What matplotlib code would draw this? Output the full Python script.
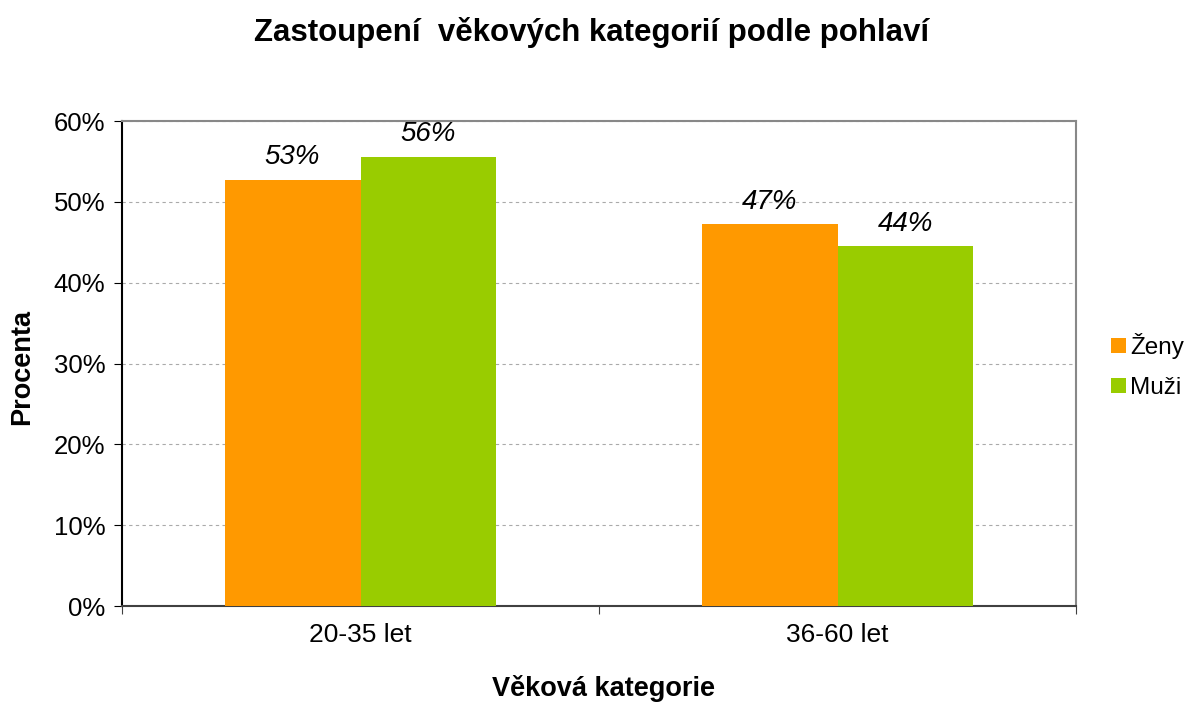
import matplotlib
matplotlib.use("Agg")
import matplotlib.pyplot as plt
from matplotlib.ticker import FuncFormatter
import numpy as np

plt.rcParams['font.family'] = ['Liberation Sans', 'DejaVu Sans']

categories = ["20-35 let", "36-60 let"]
zeny = [52.7, 47.2]
muzi = [55.6, 44.5]
zeny_labels = ["53%", "47%"]
muzi_labels = ["56%", "44%"]
series_names = ["Ženy", "Muži"]

fig = plt.figure(figsize=(11.88, 7.02), dpi=100)
ax = fig.add_axes([122/1188, 1-606/702, (1076-122)/1188, (606-121)/702])

x = np.arange(len(categories))
w = 0.285
b1 = ax.bar(x - w/2, zeny, w, color="#FF9900", label=series_names[0], zorder=3)
b2 = ax.bar(x + w/2, muzi, w, color="#99CC00", label=series_names[1], zorder=3)

for bars, labs in ((b1, zeny_labels), (b2, muzi_labels)):
    for r, t in zip(bars, labs):
        ax.annotate(t, (r.get_x() + r.get_width()/2, r.get_height()),
                    xytext=(0, 7), textcoords="offset points",
                    ha="center", va="bottom", fontsize=20, style="italic")

ax.set_xlim(-0.5, 1.5)
ax.set_ylim(0, 60)
ax.set_yticks(np.arange(0, 61, 10))
ax.yaxis.set_major_formatter(FuncFormatter(lambda v, p: f"{v:.0f}%"))
ax.set_xticks([-0.5, 0.5, 1.5])
ax.set_xticklabels([])
ax.set_xticks(x, minor=True)
ax.set_xticklabels(categories, minor=True)
ax.tick_params(axis="x", which="minor", length=0, pad=12, labelsize=19)
ax.tick_params(axis="x", which="major", length=6, direction="out", color="#404040")
ax.tick_params(axis="y", length=6, direction="out", labelsize=18.5, pad=6)

ax.yaxis.grid(True, linestyle=(0, (3, 3)), color="#AAAAAA", linewidth=0.8, zorder=0)
ax.set_axisbelow(True)

ax.spines["left"].set_color("black")
ax.spines["bottom"].set_color("#404040")
ax.spines["left"].set_linewidth(1.5)
ax.spines["bottom"].set_linewidth(1.5)
ax.spines["top"].set_color("#888888")
ax.spines["right"].set_color("#888888")
ax.spines["top"].set_linewidth(1.5)
ax.spines["right"].set_linewidth(1.5)

fig.text(592/1188, 1-32/702, "Zastoupení  věkových kategorií podle pohlaví",
         ha="center", va="center", fontsize=22.5, fontweight="bold")
fig.text(22/1188, 1-367/702, "Procenta", rotation=90, ha="center", va="center",
         fontsize=19.5, fontweight="bold")
fig.text(603/1188, 1-688/702, "Věková kategorie", ha="center", va="center",
         fontsize=19.5, fontweight="bold")

leg = fig.legend(handles=[b1, b2], labels=series_names, loc="center left",
                 bbox_to_anchor=(1111/1188, 1-366/702), frameon=False,
                 fontsize=17.5, handlelength=0.6, handleheight=0.6,
                 handletextpad=0.2, labelspacing=0.75, borderaxespad=0,
                 borderpad=0)

fig.savefig("out.png", dpi=100)
